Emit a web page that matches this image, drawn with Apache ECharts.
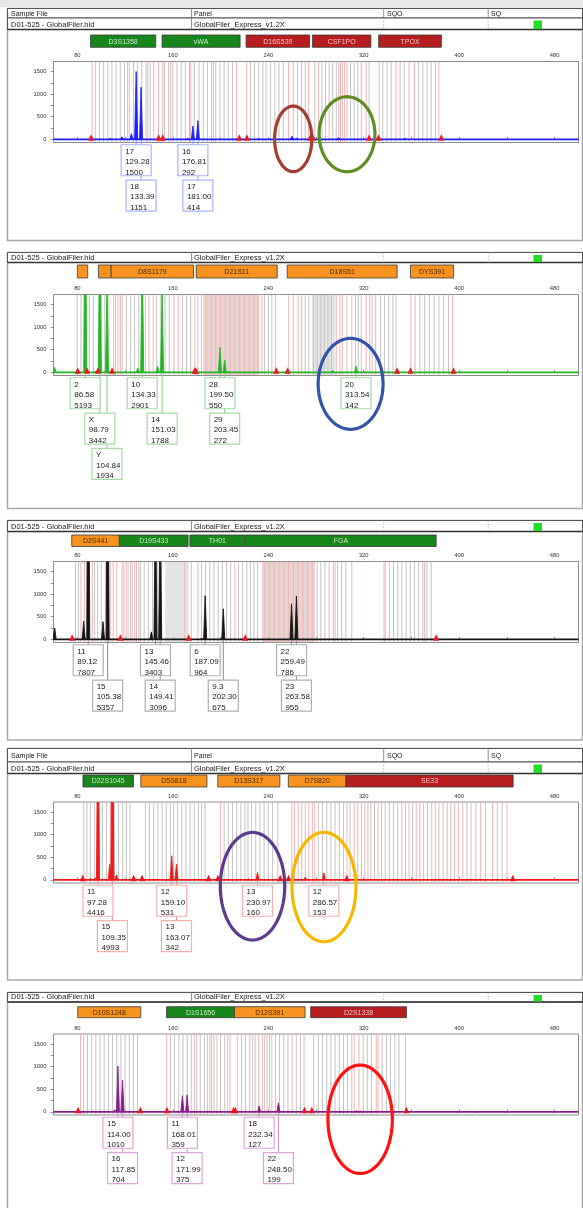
<!DOCTYPE html>
<html><head><meta charset="utf-8">
<script src="https://cdn.jsdelivr.net/npm/echarts@6/dist/echarts.min.js"></script>
<style>html,body{margin:0;padding:0;background:#fff}#c{width:583px;height:1208px}</style>
</head><body><div id="c"></div>
<script>
// ---------------- DATA ----------------
const xTickLabels = [80,160,240,320,400,480];
const xTickMarks = [80,120,160,200,240,280,320,360,400,440,480];
const yTickLabels = [0,500,1000,1500];
const yTickMarks = [0,250,500,750,1000,1250,1500];
const baselineSpan = [60,500];

// Panel 1 (blue)
const p1Alleles = ['17','18','16','17'];
const p1Sizes = [129.28,133.39,176.81,181.00];
const p1Heights = [1500,1151,292,414];
const p1Rows = [0,1,0,1];
const p1Minor = [[107.7,15],[117.4,55],[125.3,125],[172.6,25],[232,10],[259.8,70],[264.0,30],[298.9,35],[354.7,18]];
const p1Markers = [['D3S1358',91,145.7,'G'],['vWA',151,216.4,'G'],['D16S539',221.4,274.6,'R'],['CSF1PO',277.1,326,'R'],['TPOX',332.5,385.1,'R']];
const p1Flags = [91.5,148.1,151.5,215.7,222.1,275.1,277.4,324.5,332.4,385];
const p1BinsGrey = [95,98.5,102,105.5,109,112.5,116,119.5,127,130.5,134,137.5,141,153,156.5,160,163.5,167,170.5,174,178,182,185.5,189,192.5,196,199.5,203,206.5,210,225,228.5,232,235.5,242,245.5,249,252.5,264.5,268,271,279,285,288,294,297,309,312,315,318,324.5,336,339.5,343,350.5,354,366,369.5,373,376.5,380];
const p1BinsPink = [92.3,122,123.5,139,144,148,151.5,158,175,194,213.5,222,238,257,261,273.7,282,291,299,300.5,302,304,306,322,333,347,358,362.5,383];
const p1Shades = [];
const p1Circled = [[260.9,11,15.6,725],[306,113,23.4,829]];

// Panel 2 (green)
const p2Alleles = ['2','X','Y','10','14','28','29','20'];
const p2Sizes = [86.58,98.79,104.84,134.33,151.03,199.50,203.45,313.54];
const p2Heights = [5193,3442,1934,2901,1788,550,272,142];
const p2Rows = [0,1,2,0,1,0,1,0];
const p2Minor = [[61,110],[95,20],[130.6,95],[147.3,130],[206,15],[293.8,40]];
const p2Markers = [['',80,88.7,'O'],['..',97.7,108.3,'O'],['D8S1179',108.3,177.4,'O'],['D21S11',179.6,247.5,'O'],['D18S51',255.9,348,'O'],['DYS391',359.2,395.3,'O']];
const p2Flags = [80.3,88.1,97.3,109.1,178.3,179.4,246.7,256.2,348,359.2,395.3];
const p2BinsGrey = [79.8,83,90,93.5,100,103,106.5,117.5,121,124.5,128,131.5,146.5,150,153.5,157,168,171.5,175,181,184,237,240,246,268,271,274,278,281,284,287,290,293,313,315.5,325,330,334,337.5,341,344.5,347,363,367,371,375,379,383,387,391];
const p2BinsPink = [110.5,112,114,116,137,140,143.5,161,164.5,178.5,188,192,196,200,204,208,212,216,220,224,228,232,234.7,243,257,261,265,297,300,302,306,310,318,322,327,359.5,394.5];
const p2Shades = [[185.5,232,'P'],[276.5,296,'G']];
const p2Circled = [[309,-254,27.2,1005]];

// Panel 3 (black)
const p3Alleles = ['11','15','13','14','6','9.3','22','23'];
const p3Sizes = [89.12,105.38,145.46,149.41,187.09,202.30,259.49,263.58];
const p3Heights = [7807,5357,3403,3096,964,675,786,955];
const p3Rows = [0,1,0,1,0,1,0,1];
const p3Minor = [[61,250],[85.3,400],[101.5,390],[142,165],[184,15]];
const p3Markers = [['D2S441',75.3,115.2,'O'],['D19S433',115.2,172.8,'G'],['TH01',174.3,220.4,'G'],['FGA',221,380.7,'G']];
const p3Flags = [75.6,116,173.3,220.7,380.7];
const p3BinsGrey = [78.4,81,94.5,97,100,103.5,106,119,122.5,126,129.5,133,136,139.5,143,147,150.5,184,187.5,191,194.5,198,201.5,205,208.5,215,218.5,222,225,228,281,284,287.5,291,294.5,298,301.5,305,338,341.5,345,348.5,352,355.5,359,362.5,366,369.5,373,376.5];
const p3BinsPink = [83,86,89.5,92.5,107.5,110,113,117.5,121,124.5,128,131.5,170,175.5,181,212,231,237,241,245,249,253,257,261,265,269,273,277,296,310,337,371];
const p3Shades = [[153.7,173.3,'G'],[234.7,279.3,'P']];
const p3Circled = [];

// Panel 4 (red)
const p4Alleles = ['11','15','12','13','13','12'];
const p4Sizes = [97.28,109.35,159.10,163.07,230.97,286.57];
const p4Heights = [4416,4993,531,342,160,153];
const p4Rows = [0,1,0,1,0,0];
const p4Minor = [[91,30],[95.1,45],[107.1,350],[112.7,110],[155,15],[223.5,25],[271,55]];
const p4Markers = [['D22S1045',84.7,127,'G'],['D5S818',133.2,188.6,'O'],['D13S317',197.7,249.7,'O'],['D7S820',256.8,305.1,'O'],['SE33',305.1,445.2,'R']];
const p4Flags = [84.5,127.2,134.2,190,197.8,250,257,305.8,445];
const p4BinsGrey = [88,91,94.5,101,104.5,111,114.5,118,121,140.5,144,147.5,151,154.5,158,164,167.5,171,174.5,178,181.5,187,203,206.5,210,213.5,217,220.5,223,229.5,233,236.5,240,243.5,282,285.5,289,292.5,296,299.5,303,308.5,315,323.5,329,335,341.5,348.5,355,361,367,373.5,380,386.5,393,399.5,406.5,414,422,432,436];
const p4BinsPink = [85.3,98,107.7,124,137,160.7,184,200,226,248,259.7,262,265,268,271,274,277,279,306,312,318,321,326,332,338,345,352,358,364,370,377,383,390,396,403,410,418,428,440];
const p4Shades = [];
const p4Circled = [[226.8,-141,27,1189],[286.7,-159,26.8,1209]];

// Panel 5 (purple)
const p5Alleles = ['15','16','11','12','18','22'];
const p5Sizes = [114.00,117.85,168.01,171.99,232.34,248.50];
const p5Heights = [1010,704,359,375,127,199];
const p5Rows = [0,1,0,1,0,1];
const p5Minor = [[83,8],[111.3,45],[164.5,20],[300.3,20],[314.2,28],[317,22],[398.5,12],[414,10],[439,10],[479,12]];
const p5Markers = [['D10S1248',80.3,133.2,'O'],['D1S1656',154.7,211.7,'G'],['D12S391',211.7,270.8,'O'],['D2S1338',275.5,355.8,'R']];
const p5Flags = [80.6,132.8,155.1,210.9,212.3,270.4,276.5,355.8];
const p5BinsGrey = [85.3,88.5,92,95.5,99,102.5,106,109.5,113,116.5,120,123.5,127,130.5,158,161.5,165,168.5,172,175.5,178,183,186.5,189,194.5,200,203.5,206,217.5,221,224.5,227,237,241,246,249.5,253,256.5,263.5,267,282,285.5,289,292.5,296,299.5,303,306.5,310,319.5,323,326.5,335.5,339,342.5,346,349.5];
const p5BinsPink = [82.6,154.8,180,191,192.5,197,208,214,229,232,235,239,243,260,270,278,312,316,330.5,332,355];
const p5Shades = [];
const p5Circled = [[317,-164,27,1198]];

const headerA = ['Sample File','Panel','SQO','SQ'];
const headerB = ['D01-525 - GlobalFiler.hid','GlobalFiler_Express_v1.2X'];

// ---------------- STYLE / LAYOUT ----------------
const FONT = '"Liberation Sans", Arial, sans-serif';
const DYE = ['#1d1dff','#22b522','#151515','#f01818','#8c1c8c'];
const BOXLINE = ['#aab2ff','#a6dba6','#b0b0b0','#f3b0b0','#dfa5d8'];
const CONNECT = ['#8f9aff','#7fcc7f','#8a8a8a','#ef9090','#d08ccb'];
const MARKFILL = {G:'#17861b', R:'#b81d1d', O:'#f7931e'};
const MARKTEXT = {G:'#cde6cd', R:'#f4c6c6', O:'#4a2a00'};
const SHADE = {P:'rgba(200,150,150,0.42)', G:'rgba(200,200,200,0.5)'};
const CIRCLECOL = [['#a53c34','#5e8c24'],['#3254a6'],[],['#5b3b8f','#f7b600'],['#ff1212']];
const L = [
  {band:[0,7], rowA:[8.5,18], rowB:[18,29.5], bottom:240.5, gridTop:61.5, mkOff:26.5, mkH:12.3},
  {rowB:[252.5,262.5], bottom:508.5, gridTop:294.5, mkOff:29.5, mkH:13},
  {rowB:[520.5,531.5], bottom:740, gridTop:561.5, mkOff:26.5, mkH:11.5},
  {rowA:[748.5,762], rowB:[762,773.5], bottom:980, gridTop:802, mkOff:27, mkH:12},
  {rowB:[992.5,1002], bottom:1215, gridTop:1034, mkOff:27.3, mkH:11}
];
const YMIN = -70, YMAX = 1720, GH = 81;

const panels = [
  {alleles:p1Alleles,sizes:p1Sizes,heights:p1Heights,rows:p1Rows,minor:p1Minor,markers:p1Markers,flags:p1Flags,grey:p1BinsGrey,pink:p1BinsPink,shades:p1Shades,circled:p1Circled},
  {alleles:p2Alleles,sizes:p2Sizes,heights:p2Heights,rows:p2Rows,minor:p2Minor,markers:p2Markers,flags:p2Flags,grey:p2BinsGrey,pink:p2BinsPink,shades:p2Shades,circled:p2Circled},
  {alleles:p3Alleles,sizes:p3Sizes,heights:p3Heights,rows:p3Rows,minor:p3Minor,markers:p3Markers,flags:p3Flags,grey:p3BinsGrey,pink:p3BinsPink,shades:p3Shades,circled:p3Circled},
  {alleles:p4Alleles,sizes:p4Sizes,heights:p4Heights,rows:p4Rows,minor:p4Minor,markers:p4Markers,flags:p4Flags,grey:p4BinsGrey,pink:p4BinsPink,shades:p4Shades,circled:p4Circled},
  {alleles:p5Alleles,sizes:p5Sizes,heights:p5Heights,rows:p5Rows,minor:p5Minor,markers:p5Markers,flags:p5Flags,grey:p5BinsGrey,pink:p5BinsPink,shades:p5Shades,circled:p5Circled}
];

const grids = [], xAxes = [], yAxes = [], series = [], graphics = [];

panels.forEach((P, i) => {
  const lay = L[i];
  grids.push({left:53.5, right:4.5, top:lay.gridTop, height:GH, show:true, borderColor:'#8c8c8c', borderWidth:1, backgroundColor:'#fff', containLabel:false, outerBoundsMode:'none'});
  xAxes.push({gridIndex:i, type:'value', min:60, max:500, position:'top',
    axisLine:{show:false}, splitLine:{show:false},
    axisTick:{show:true, customValues:xTickMarks, length:2.5, lineStyle:{color:'#777', width:0.8}},
    axisLabel:{customValues:xTickLabels, fontSize:5.8, color:'#333', margin:3, fontFamily:FONT, formatter:v=>String(v)}});
  yAxes.push({gridIndex:i, type:'value', min:YMIN, max:YMAX,
    axisLine:{show:false}, splitLine:{show:false},
    axisTick:{show:true, customValues:yTickMarks, length:3, lineStyle:{color:'#777', width:0.8}},
    axisLabel:{customValues:yTickLabels, fontSize:5.8, color:'#333', margin:7, fontFamily:FONT, formatter:v=>String(v)}});
  const base = {xAxisIndex:i, yAxisIndex:i, silent:true, animation:false};

  // shaded bin regions
  series.push(Object.assign({}, base, {type:'custom', z:1, clip:true,
    data:P.shades.map(s=>[s[0],s[1],0]), encode:{x:[0,1],y:2},
    renderItem:(params, api)=>{
      const cs = params.coordSys;
      const a = api.coord([api.value(0),0]), b = api.coord([api.value(1),0]);
      return {type:'rect', shape:{x:a[0], y:cs.y, width:b[0]-a[0], height:cs.height}, style:{fill:SHADE[P.shades[params.dataIndex][2]]}};
    }}));
  // bins
  [[P.grey,'#c4c4c4'],[P.pink,'#f4b4b4']].forEach(([arr,col])=>{
    series.push(Object.assign({}, base, {type:'custom', z:2, clip:true,
      data:arr.map(v=>[v,0]), encode:{x:0,y:1},
      renderItem:(params, api)=>{
        const cs = params.coordSys;
        const a = api.coord([api.value(0),0]);
        return {type:'line', shape:{x1:a[0], y1:cs.y, x2:a[0], y2:cs.y+cs.height}, style:{stroke:col, lineWidth:1}};
      }}));
  });
  // baseline
  series.push(Object.assign({}, base, {type:'line', z:3, symbol:'none',
    data:baselineSpan.map(x=>[x,0]), lineStyle:{color:DYE[i], width:1.8}}));
  // peaks
  const peakData = P.sizes.map((s,k)=>[s,P.heights[k]]).concat(P.minor.map(m=>[m[0],m[1]]));
  series.push(Object.assign({}, base, {type:'custom', z:4, clip:true,
    data:peakData, encode:{x:0,y:1},
    renderItem:(params, api)=>{
      const t = api.coord([api.value(0), api.value(1)]);
      const b = api.coord([api.value(0), 0]);
      const hw = 1.5;
      return {type:'polygon', shape:{points:[[t[0]-hw,b[1]],[t[0],t[1]],[t[0]+hw,b[1]]]}, style:{fill:DYE[i], stroke:DYE[i], lineWidth:0.9}};
    }}));
  // red flags
  series.push(Object.assign({}, base, {type:'custom', z:5, clip:true,
    data:P.flags.map(v=>[v,0]), encode:{x:0,y:1},
    renderItem:(params, api)=>{
      const b = api.coord([api.value(0),0]);
      return {type:'polygon', shape:{points:[[b[0]-3,b[1]+1.5],[b[0],b[1]-5],[b[0]+3,b[1]+1.5]]}, style:{fill:'#ec1520'}};
    }}));
  // marker bars
  series.push(Object.assign({}, base, {type:'custom', z:5, clip:false,
    data:P.markers.map(m=>[m[1],m[2],0]), encode:{x:[0,1],y:2},
    renderItem:(params, api)=>{
      const cs = params.coordSys;
      const m = P.markers[params.dataIndex];
      const a = api.coord([api.value(0),0]), b = api.coord([api.value(1),0]);
      const y = cs.y - lay.mkOff;
      return {type:'group', children:[
        {type:'rect', shape:{x:a[0], y:y, width:b[0]-a[0], height:lay.mkH}, style:{fill:MARKFILL[m[3]], stroke:'#3a3a3a', lineWidth:0.8}},
        {type:'text', style:{text:m[0], x:(a[0]+b[0])/2, y:y+lay.mkH/2+0.5, textAlign:'center', align:'center', textVerticalAlign:'middle', verticalAlign:'middle', font:'7px '+FONT, fill:MARKTEXT[m[3]]}}
      ]};
    }}));
  // connectors
  series.push(Object.assign({}, base, {type:'custom', z:6, clip:false,
    data:P.sizes.map(s=>[s,0]), encode:{x:0,y:1},
    renderItem:(params, api)=>{
      const b = api.coord([api.value(0),0]);
      const top = b[1] + 5.4 + P.rows[params.dataIndex]*35.3;
      return {type:'line', shape:{x1:b[0], y1:b[1]+1, x2:b[0], y2:top}, style:{stroke:CONNECT[i], lineWidth:1}};
    }}));
  // label boxes
  series.push(Object.assign({}, base, {type:'custom', z:7, clip:false,
    data:P.sizes.map(s=>[s,0]), encode:{x:0,y:1},
    renderItem:(params, api)=>{
      const k = params.dataIndex;
      const b = api.coord([api.value(0),0]);
      const top = b[1] + 5.4 + P.rows[k]*35.3;
      const w = 30, h = 31, x0 = b[0]-w/2;
      return {type:'group', children:[
        {type:'rect', shape:{x:x0, y:top, width:w, height:h}, style:{fill:'#fff', stroke:BOXLINE[i], lineWidth:1.2}},
        {type:'text', style:{text:P.alleles[k]+'\n'+P.sizes[k].toFixed(2)+'\n'+P.heights[k], x:x0+4, y:top+1.5, textVerticalAlign:'top', verticalAlign:'top', font:'8px '+FONT, lineHeight:10.5, fill:'#222'}}
      ]};
    }}));
  // circled regions
  if (P.circled.length) series.push(Object.assign({}, base, {type:'custom', z:10, clip:false,
    data:P.circled.map(c=>[c[0],c[1]]), encode:{x:0,y:1},
    renderItem:(params, api)=>{
      const c = P.circled[params.dataIndex];
      const ctr = api.coord([c[0], c[1]]);
      const sz = api.size([c[2], c[3]]);
      const pts = [];
      for (let t=0; t<96; t++) { const a = t/96*Math.PI*2; pts.push([ctr[0]+sz[0]*Math.cos(a), ctr[1]+sz[1]*Math.sin(a)]); }
      return {type:'polygon', shape:{points:pts}, style:{fill:'none', stroke:CIRCLECOL[i][params.dataIndex], lineWidth:3.2}};
    }}));

  // ------- frame & header graphics (layout) -------
  const frameTop = (lay.rowA || lay.rowB)[0];
  graphics.push({type:'rect', z:-1, shape:{x:7.5, y:frameTop, width:575, height:lay.bottom-frameTop}, style:{fill:'none', stroke:'#a8a8a8', lineWidth:1.5}});
  if (lay.band) graphics.push({type:'rect', z:-2, shape:{x:0, y:lay.band[0], width:583, height:lay.band[1]-lay.band[0]}, style:{fill:'#e8e8e8'}});
  const cols = [11,194,387,491], seps = [191.5,383.7,488.2];
  if (lay.rowA) {
    const [a,b] = lay.rowA;
    graphics.push({type:'rect', shape:{x:7.5, y:a, width:575, height:b-a}, style:{fill:'#fff', stroke:'#555', lineWidth:1}});
    seps.forEach(s=>graphics.push({type:'line', shape:{x1:s,y1:a,x2:s,y2:b}, style:{stroke:'#777', lineWidth:0.8}}));
    headerA.forEach((t,k)=>graphics.push({type:'text', style:{text:t, x:cols[k], y:(a+b)/2+0.5, textVerticalAlign:'middle', verticalAlign:'middle', font:'7px '+FONT, fill:'#222'}}));
  }
  {
    const [a,b] = lay.rowB;
    graphics.push({type:'rect', shape:{x:7.5, y:a, width:575, height:b-a}, style:{fill:'#fff', stroke:'#555', lineWidth:1}});
    graphics.push({type:'line', shape:{x1:7.5,y1:b,x2:582.5,y2:b}, style:{stroke:'#333', lineWidth:1.6}});
    graphics.push({type:'line', shape:{x1:seps[0],y1:a,x2:seps[0],y2:b}, style:{stroke:'#777', lineWidth:0.8}});
    graphics.push({type:'line', shape:{x1:seps[1],y1:a,x2:seps[1],y2:b}, style:{stroke:'#aaa', lineWidth:0.8, lineDash:[1.5,1.5]}});
    graphics.push({type:'line', shape:{x1:seps[2],y1:a,x2:seps[2],y2:b}, style:{stroke:'#aaa', lineWidth:0.8, lineDash:[1.5,1.5]}});
    headerB.forEach((t,k)=>graphics.push({type:'text', style:{text:t, x:cols[k], y:b-0.8, textVerticalAlign:'bottom', verticalAlign:'bottom', font:'7.5px '+FONT, fill:'#222'}}));
    graphics.push({type:'rect', shape:{x:533.5, y:a+2.5, width:8.5, height:b-a-3}, style:{fill:'#22dd22'}});
  }
});

const chart = echarts.init(document.getElementById('c'), null, {renderer:'canvas'});
chart.setOption({animation:false, backgroundColor:'#fff', grid:grids, xAxis:xAxes, yAxis:yAxes, series:series, graphic:graphics});
</script></body></html>
